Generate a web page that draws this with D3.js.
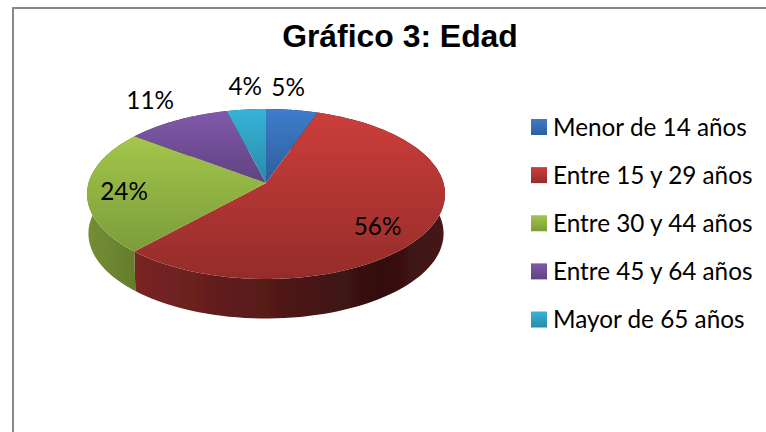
<!DOCTYPE html>
<html><head><meta charset="utf-8">
<script src="https://cdn.jsdelivr.net/npm/d3@7"></script>
<style>html,body{margin:0;padding:0;background:#fff}svg{display:block}</style>
</head><body><div id="c"></div>
<script>
const title = "Gráfico 3: Edad";
const categories = ["Menor de 14 años","Entre 15 y 29 años","Entre 30 y 44 años","Entre 45 y 64 años","Mayor de 65 años"];
const values = [5.3,56.4,23.6,10.7,4.0];
const topColors = ["#3f7ccb","#cc3e3b","#a3c64b","#8259aa","#35b3d8"];
const bottomColors = ["#2e5e9b","#942c2a","#7c9c39","#5e4380","#2a8ba8"];
const labelNudge = [[-4,-22],[-52,-2],[37,1],[-27,-20],[-1,-23]];

const W=766,H=432;
const svg=d3.select("#c").append("svg").attr("width",W).attr("height",H);
const defs=svg.append("defs");
defs.append("filter").attr("id","soft").append("feGaussianBlur").attr("stdDeviation",0.35);

svg.append("path").attr("d",`M13,${H}V8H${W}`).attr("fill","none").attr("stroke","#888").attr("stroke-width",2);

svg.append("text").attr("x",400).attr("y",47).attr("text-anchor","middle")
  .attr("font-family","'Liberation Sans',Arial,sans-serif").attr("font-weight","bold")
  .attr("font-size",31.9).attr("fill","#000").text(title);

const cx=266,cy=183,persp=-0.1294,ky=59.9,kx=177.5,depth=39.5,shrink=0.992;
function project(theta,r=1){
  const s=r*Math.sin(theta),t=-r*Math.cos(theta),d=persp*t+1;
  return [cx+kx*s/d,(ky*t+cy)/d];
}
const projectLow=theta=>{const [x,y]=project(theta);return [cx+(x-cx)*shrink,y+depth];};

const arcs=d3.pie().sort(null)(values);
const line=d3.line();
const samples=(a0,a1)=>d3.range(0,1.0001,1/90).map(u=>a0+(a1-a0)*u);

const wallStops=[[0,.82],[.13,.72],[.5,.5],[.82,.3],[1,.42]];
arcs.forEach((a,i)=>{
  const g=defs.append("linearGradient").attr("id","top"+i).attr("x1",0).attr("y1",0).attr("x2",0).attr("y2",1);
  g.append("stop").attr("offset",0).attr("stop-color",topColors[i]);
  g.append("stop").attr("offset",1).attr("stop-color",bottomColors[i]);
  const w=defs.append("linearGradient").attr("id","wall"+i).attr("gradientUnits","userSpaceOnUse")
    .attr("x1",cx-kx).attr("x2",cx+kx).attr("y1",0).attr("y2",0);
  const base=d3.rgb(d3.interpolateRgb(topColors[i],bottomColors[i])(0.6));
  wallStops.forEach(([o,k])=>w.append("stop").attr("offset",o)
    .attr("stop-color",d3.rgb(base.r*k,base.g*k,base.b*k).formatHex()));
});

const pie=svg.append("g").attr("filter","url(#soft)");
pie.selectAll("path.wall").data(arcs).join("path").attr("class","wall")
  .attr("fill",(d,i)=>`url(#wall${i})`)
  .attr("d",d=>{
    const ang=samples(d.startAngle,d.endAngle);
    return line([...ang.map(a=>project(a)),...ang.slice().reverse().map(projectLow)])+"Z";
  });
pie.selectAll("path.face").data(arcs).join("path").attr("class","face")
  .attr("fill",(d,i)=>`url(#top${i})`)
  .attr("d",d=>line([[cx,cy],...samples(d.startAngle,d.endAngle).map(a=>project(a))])+"Z");

const font="Lato,'Open Sans',sans-serif";
svg.selectAll("text.lab").data(arcs).join("text").attr("class","lab")
  .attr("font-family",font).attr("font-size",24.3).attr("fill","#000")
  .attr("text-anchor","middle").attr("dominant-baseline","central")
  .attr("x",(d,i)=>project((d.startAngle+d.endAngle)/2)[0]+labelNudge[i][0])
  .attr("y",(d,i)=>project((d.startAngle+d.endAngle)/2)[1]+labelNudge[i][1]-1)
  .text(d=>d3.format(".0f")(d.value)+"%");

const ly=d3.scalePoint().domain(categories).range([127,319.5]);
const leg=svg.selectAll("g.leg").data(categories).join("g").attr("class","leg")
  .attr("transform",d=>`translate(531,${ly(d)})`);
leg.append("rect").attr("x",0).attr("y",-8).attr("width",16).attr("height",16)
  .attr("fill",(d,i)=>`url(#top${i})`);
leg.append("text").attr("x",22).attr("y",-1).attr("dominant-baseline","central")
  .attr("font-family",font).attr("font-size",24.3).attr("fill","#000").text(d=>d);
</script></body></html>
